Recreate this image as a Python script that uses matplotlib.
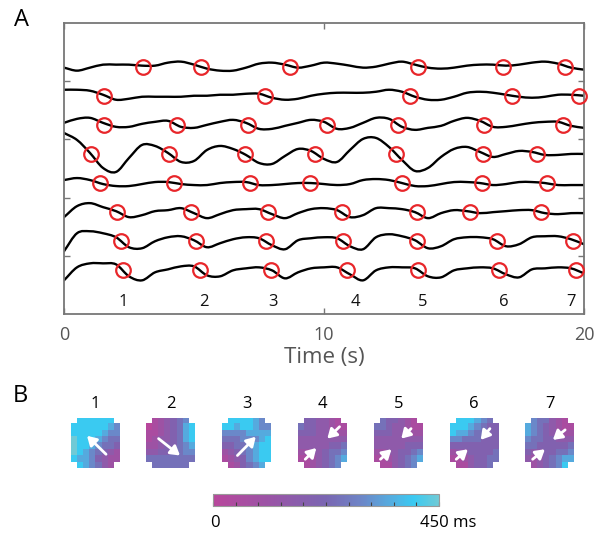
import numpy as np
import matplotlib
matplotlib.use('Agg')
import matplotlib.pyplot as plt
from matplotlib.colors import LinearSegmentedColormap, Normalize
from matplotlib.cm import ScalarMappable
from matplotlib.path import Path
from matplotlib.patches import PathPatch

plt.rcParams['font.family'] = ['Open Sans', 'DejaVu Sans']

# ---------------- data ----------------
time = np.arange(41) * 0.5  # s

trace1 = [-1,-4,-1,2,2,2,1,1,4,5,2,-2,-4,-4,-1,3,4,2,-1,1,4,3,1,-1,0,3,5,2,-1,-2,-1,1,2,2,1,2,4,5,3,-1,-3]
trace2 = [6,6,5,1,-4,-3,-1,-1,-1,-1,0,0,1,1,2,2,-2,-4,-3,0,2,3,3,3,4,6,4,-1,-4,-4,-1,3,4,3,1,-1,-2,-1,1,1,0]
trace3 = [2,6,7,2,-2,-2,1,3,4,-2,-3,0,3,5,2,-4,-4,-1,2,5,3,-4,-3,2,7,6,-2,-5,-3,-1,4,7,4,-2,-2,0,2,3,3,-1,-3]
trace4 = [21,14,1,-14,-18,-4,9,8,1,-8,-7,4,8,5,-1,-9,-10,-2,5,3,-5,-8,4,15,16,7,-6,-17,-14,-3,5,7,2,-3,0,3,2,-1,-1,0,0]
trace5 = [3,5,3,-1,-3,-3,-1,1,1,-1,-2,-2,0,1,1,-2,-2,-1,0,0,-1,-2,-1,3,4,3,0,-3,-3,-1,1,1,0,-2,-1,1,1,0,-2,-2,-2]
trace6 = [-5,6,9,5,1,-5,-3,1,2,4,-1,-6,-2,2,3,3,-2,-6,-1,3,4,2,-5,-3,4,4,3,0,-6,-1,2,1,-1,0,1,2,2,-1,-2,-1,-1]
trace7 = [-10,8,10,8,4,-6,-7,0,4,5,1,-6,-2,2,4,3,-4,-8,1,3,4,3,-5,-8,4,7,5,1,-7,-5,2,4,4,2,-5,-3,4,5,5,2,-3]
trace8 = [-10,3,7,7,6,-6,-10,-2,1,4,4,-5,-6,0,2,3,0,-8,-2,2,3,3,-4,-10,0,3,3,2,-6,-7,0,2,3,2,-4,-7,1,2,3,2,-3]
traces = [trace1, trace2, trace3, trace4, trace5, trace6, trace7, trace8]

circles1 = [3.04, 5.27, 8.69, 13.62, 16.88, 19.27]
circles2 = [1.54, 7.73, 13.31, 17.23, 19.81]
circles3 = [1.54, 4.35, 7.08, 10.12, 12.85, 16.15, 19.19]
circles4 = [1.04, 4.04, 6.96, 9.65, 12.77, 16.12, 18.19]
circles5 = [1.38, 4.23, 7.15, 9.46, 13.0, 16.08, 18.58]
circles6 = [2.04, 4.88, 7.85, 10.69, 13.58, 15.62, 18.35]
circles7 = [2.19, 5.08, 7.77, 10.73, 13.58, 16.65, 19.58]
circles8 = [2.27, 5.23, 7.96, 10.88, 13.62, 16.73, 19.69]
circle_times = [circles1, circles2, circles3, circles4, circles5, circles6, circles7, circles8]

event_labels = ['1', '2', '3', '4', '5', '6', '7']
event_times = [2.27, 5.38, 8.04, 11.19, 13.8, 16.9, 19.5]

# activation maps, 8x8, digit d -> d*50 ms, x = outside
map1 = ["x888888x", "88888876", "88888766", "98887655", "98876554", "98765432", "87764322", "x876532x"]
map2 = ["x123456x", "01234578", "11234578", "12334578", "22344567", "33445566", "55555555", "x555555x"]
map3 = ["x888876x", "88788766", "66667777", "55566678", "44556788", "23456788", "12346788", "x124567x"]
map4 = ["x443321x", "54433211", "44433322", "33333333", "33333445", "22334556", "11234567", "x123456x"]
map5 = ["x544321x", "55433211", "44433322", "33333333", "33333444", "22334456", "11234567", "x113456x"]
map6 = ["x888765x", "88876544", "87765544", "66555444", "44444444", "23344445", "11234455", "x113445x"]
map7 = ["x655321x", "76543211", "76543322", "65544333", "55444445", "43344556", "32345677", "x234568x"]
maps = [map1, map2, map3, map4, map5, map6, map7]

# arrows per map: (tail_dx, tail_dy, head_dx, head_dy) in cells from map centre (dy down)
arrows = [
    [(1.8, 1.8, -1.3, -1.15)],
    [(-2.0, -0.7, 1.5, 2.0)],
    [(-1.5, 2.0, 1.5, -1.0)],
    [(-2.8, 2.6, -1.0, 0.8), (2.8, -2.6, 0.8, -0.7)],
    [(-2.9, 2.6, -1.1, 1.0), (2.1, -2.3, 0.5, -0.7)],
    [(-2.9, 2.6, -1.0, 1.0), (2.6, -2.3, 1.1, -0.5)],
    [(-2.8, 2.6, -0.8, 1.0), (2.5, -2.1, 0.5, -0.5)],
]
map_labels = ['1', '2', '3', '4', '5', '6', '7']
cbar_ticks = list(range(0, 451, 45))


def smooth_path(x, y):
    """Catmull-Rom curve through the points as cubic Bezier segments."""
    x = np.asarray(x, float)
    y = np.asarray(y, float)
    px = np.concatenate([[2 * x[0] - x[1]], x, [2 * x[-1] - x[-2]]])
    py = np.concatenate([[2 * y[0] - y[1]], y, [2 * y[-1] - y[-2]]])
    verts = [(x[0], y[0])]
    codes = [Path.MOVETO]
    for i in range(1, len(px) - 2):
        c1 = (px[i] + (px[i + 1] - px[i - 1]) / 6, py[i] + (py[i + 1] - py[i - 1]) / 6)
        c2 = (px[i + 1] - (px[i + 2] - px[i]) / 6, py[i + 1] - (py[i + 2] - py[i]) / 6)
        verts += [c1, c2, (px[i + 1], py[i + 1])]
        codes += [Path.CURVE4] * 3
    return Path(verts, codes)


# ---------------- figure ----------------
W, H = 605, 537
fig = plt.figure(figsize=(W / 100, H / 100), dpi=100)
gray = '#777777'
tgray = '#555555'

ax = fig.add_axes([64 / W, 1 - 314 / H, 520 / W, 291 / H])
for i, (sig, ct) in enumerate(zip(traces, circle_times)):
    base = 8.5 - i
    yv = base + np.array(sig) / 29.1
    ax.add_patch(PathPatch(smooth_path(time, yv), facecolor='none', edgecolor='black',
                           lw=1.7, joinstyle='round', capstyle='round', zorder=2))
    ax.plot(ct, np.full(len(ct), base), 'o', ms=10.5, mfc='none',
            mec='#E8262A', mew=1.6, zorder=3, clip_on=False)
for lab, t in zip(event_labels, event_times):
    ax.text(t, 0.42, lab, ha='center', va='center', fontsize=12, color='#111111')

ax.set_xlim(0, 20)
ax.set_ylim(0, 10)
ax.set_xticks([0, 10, 20])
ax.set_yticks([2, 4, 6, 8])
ax.set_yticklabels([])
ax.tick_params(direction='in', length=4, width=1, color=gray, top=True, right=True,
               labelsize=13, labelcolor=tgray, pad=9)
for s in ax.spines.values():
    s.set_color(gray)
    s.set_linewidth(1.3)
ax.set_xlabel('Time (s)', fontsize=16, color=tgray, labelpad=2)

fig.text(22 / W, 1 - 20 / H, 'A', fontsize=17, ha='center', va='center')
fig.text(20 / W, 1 - 396 / H, 'B', fontsize=17, ha='center', va='center')

cmap = LinearSegmentedColormap.from_list('act', [
    (0.0, '#B8479C'), (0.25, '#9A54A6'), (0.5, '#7A66B2'), (0.65, '#6E84C6'),
    (0.8, '#52B0E2'), (0.89, '#3ACAF2'), (1.0, '#70CAD6')])

for i, (m, arr_list, lab) in enumerate(zip(maps, arrows, map_labels)):
    cx = 95 + 75.8 * i
    cy = 443
    axm = fig.add_axes([(cx - 24.5) / W, 1 - (cy + 25) / H, 49 / W, 50 / H])
    vals = np.array([[np.nan if c == 'x' else int(c) * 50 for c in row] for row in m], dtype=float)
    axm.imshow(np.ma.masked_invalid(vals), cmap=cmap, vmin=0, vmax=450,
               interpolation='nearest', aspect='auto')
    for (tx, ty, hx, hy) in arr_list:
        axm.annotate('', xy=(3.5 + hx, 3.5 + hy), xytext=(3.5 + tx, 3.5 + ty),
                     arrowprops=dict(arrowstyle='-|>,head_length=0.6,head_width=0.36',
                                     color='white', lw=2.0,
                                     mutation_scale=9, shrinkA=0, shrinkB=0))
    axm.set_xlim(-0.5, 7.5)
    axm.set_ylim(7.5, -0.5)
    axm.axis('off')
    fig.text(cx / W, 1 - 404 / H, lab, fontsize=12, ha='center', va='center')

cax = fig.add_axes([213 / W, 1 - 506 / H, 226 / W, 12 / H])
cb = fig.colorbar(ScalarMappable(norm=Normalize(0, 450), cmap=cmap), cax=cax,
                  orientation='horizontal', ticks=cbar_ticks)
cax.tick_params(direction='in', length=3, width=0.8, color='#444444', labelbottom=False)
cb.outline.set_edgecolor('#999999')
cb.outline.set_linewidth(0.8)
fig.text(215 / W, 1 - 523 / H, '0', fontsize=12, ha='center', va='center')
fig.text(420 / W, 1 - 523 / H, '450 ms', fontsize=12, ha='left', va='center')

fig.savefig('out.png', dpi=100)
